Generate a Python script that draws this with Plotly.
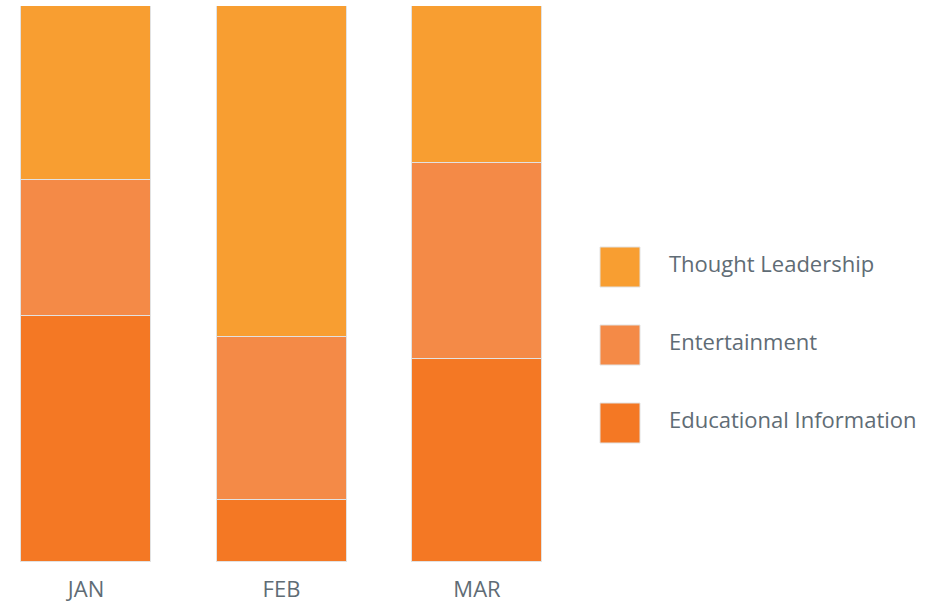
import plotly.graph_objects as go

months = ["JAN", "FEB", "MAR"]
thought_leadership = [31.3, 59.5, 28.2]
entertainment = [24.5, 29.3, 35.3]
educational = [44.2, 11.2, 36.5]

series = [
    ("Educational Information", educational, "#F47824"),
    ("Entertainment", entertainment, "#F48A47"),
    ("Thought Leadership", thought_leadership, "#F89E31"),
]

W, H = 929, 604
TOP, BOTTOM = 6, 562
FONT = "'Open Sans', Lato, sans-serif"
TEXT_COLOR = "#5f6c75"

fig = go.Figure()
for name, vals, color in series:
    fig.add_trace(go.Bar(
        name=name, x=months, y=vals,
        marker=dict(color=color, line=dict(color="#e2e2e2", width=1)),
        width=0.665,
        showlegend=False,
    ))


def py(p):
    # pixel y -> paper y
    return (BOTTOM - p) / (BOTTOM - TOP)


# custom legend: big square swatches with labels on the right
legend_items = [
    ("Thought Leadership", "#F89E31", 267),
    ("Entertainment", "#F48A47", 345),
    ("Educational Information", "#F47824", 423),
]
for label, color, cy in legend_items:
    fig.add_shape(
        type="rect", xref="paper", yref="paper",
        x0=600 / W, x1=640 / W, y0=py(cy + 20), y1=py(cy - 20),
        fillcolor=color, line=dict(color="#e2e2e2", width=1),
    )
    fig.add_annotation(
        x=667 / W, y=py(cy - 4), xref="paper", yref="paper",
        text=label, showarrow=False, xanchor="left", yanchor="middle",
        font=dict(family=FONT, size=22, color=TEXT_COLOR),
    )

fig.update_layout(
    width=W, height=H,
    barmode="stack",
    bargap=0,
    plot_bgcolor="white", paper_bgcolor="white",
    margin=dict(l=0, r=0, t=TOP, b=H - BOTTOM),
    xaxis=dict(
        domain=[0, 560 / W],
        range=[-86 / 195.5, -86 / 195.5 + 560 / 195.5],
        showgrid=False, zeroline=False, showline=False,
        automargin=False,
        ticks="", ticklabelstandoff=12,
        tickfont=dict(family=FONT, size=22, color=TEXT_COLOR),
    ),
    yaxis=dict(
        range=[0, 100], visible=False, showgrid=False, zeroline=False,
        automargin=False,
    ),
)

fig.write_html(
    "out.html",
    config={"displayModeBar": False},
    post_script="document.body.style.margin='0';",
)
